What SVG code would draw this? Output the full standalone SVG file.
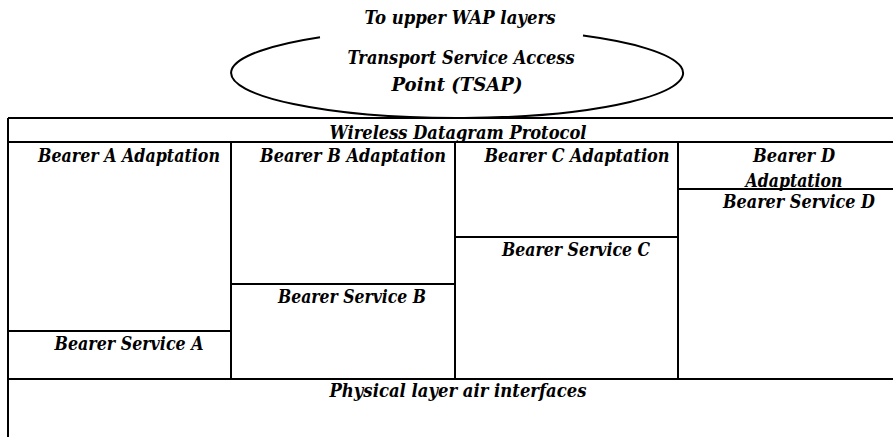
<svg xmlns="http://www.w3.org/2000/svg" width="893" height="437" viewBox="0 0 893 437">
<style>
.t{font-family:"DejaVu Serif","Liberation Serif",serif;font-weight:bold;font-style:italic;font-size:18px;fill:#000;text-anchor:middle}
.l{stroke:#000;stroke-width:2;fill:none}
</style>
<rect width="893" height="437" fill="#fff"/>
<g id="upper">
<text class="t" x="460" y="24" textLength="191" lengthAdjust="spacingAndGlyphs">To upper WAP layers</text>
</g>
<g id="tsap">
<path class="l" d="M 320 37.2 A 226 45 0 1 0 583 35.6"/>
<text class="t" x="461" y="64" textLength="227" lengthAdjust="spacingAndGlyphs">Transport Service Access</text>
<text class="t" x="457" y="91" textLength="131" lengthAdjust="spacingAndGlyphs">Point (TSAP)</text>
</g>
<g id="frame">
<path class="l" d="M 8 118 H 893 M 8 142 H 893 M 8 118 V 437 M 8 379 H 893"/>
</g>
<g id="wdp">
<text class="t" x="458" y="139" textLength="257" lengthAdjust="spacingAndGlyphs">Wireless Datagram Protocol</text>
</g>
<g id="bearerA">
<path class="l" d="M 231 142 V 379 M 8 331 H 231"/>
<text class="t" x="129" y="162" textLength="182" lengthAdjust="spacingAndGlyphs">Bearer A Adaptation</text>
<text class="t" x="129" y="350" textLength="149" lengthAdjust="spacingAndGlyphs">Bearer Service A</text>
</g>
<g id="bearerB">
<path class="l" d="M 455 142 V 379 M 231 284 H 455"/>
<text class="t" x="353" y="162" textLength="186" lengthAdjust="spacingAndGlyphs">Bearer B Adaptation</text>
<text class="t" x="352" y="303" textLength="148" lengthAdjust="spacingAndGlyphs">Bearer Service B</text>
</g>
<g id="bearerC">
<path class="l" d="M 678 142 V 379 M 455 237 H 678"/>
<text class="t" x="577" y="162" textLength="185" lengthAdjust="spacingAndGlyphs">Bearer C Adaptation</text>
<text class="t" x="576" y="256" textLength="148" lengthAdjust="spacingAndGlyphs">Bearer Service C</text>
</g>
<g id="bearerD">
<path class="l" d="M 678 189 H 893"/>
<text class="t" x="794" y="162" textLength="82" lengthAdjust="spacingAndGlyphs">Bearer D</text>
<text class="t" x="794" y="187" textLength="97" lengthAdjust="spacingAndGlyphs">Adaptation</text>
<text class="t" x="799" y="208" textLength="152" lengthAdjust="spacingAndGlyphs">Bearer Service D</text>
</g>
<g id="physical">
<text class="t" x="458" y="397" textLength="257" lengthAdjust="spacingAndGlyphs">Physical layer air interfaces</text>
</g>
</svg>
